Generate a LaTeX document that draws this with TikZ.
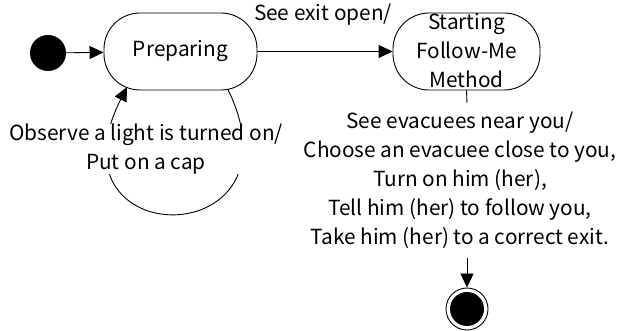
\documentclass[tikz,border=0pt]{standalone}
\usepackage{fontspec}
\setmainfont{Noto Sans CJK JP}
\usetikzlibrary{arrows.meta}
\begin{document}
\begin{tikzpicture}[x=1pt,y=-1pt,
  every node/.style={font=\fontsize{20.8}{29}\selectfont, inner sep=0pt},
  statebox/.style={draw, line width=0.9pt, rounded corners=36pt, minimum width=153pt, minimum height=77pt},
  conn/.style={line width=0.9pt},
  arr/.style={conn, -{Triangle[length=14pt,width=13pt]}},
  lbl/.style={align=center, fill=white}]
\useasboundingbox (0,0) rectangle (619,331);
\node[circle, fill=black, minimum size=36pt] (init) at (48,53) {};
\node[statebox] (prep) at (180.5,51.5) {Preparing};
\node[statebox, minimum width=147pt] (start) at (466.5,51.5) {};
\node[align=center] (starttxt) at (466.5,51) {Starting\\Follow-Me\\Method};
\draw[arr] (init) -- (prep);
\draw[arr] (prep) -- (start);
\node (exitlbl) at (323,15) {See exit open/};
\coordinate (loopA) at (228,89.5);
\coordinate (loopB) at (127,87);
\draw[arr] (loopA) .. controls (308,255) and (42,255) .. (loopB);
\node[lbl] (looplbl) at (146,149) {Observe a light is turned on/\\Put on a cap};
\node[circle, draw, line width=0.9pt, minimum size=42pt] (final) at (467,309) {};
\node[circle, fill=black, minimum size=34pt] at (final) {};
\coordinate (tB) at (467,103);
\draw[conn] (start.south) -- (tB);
\node[align=center] (actlbl) at (460,180) {See evacuees near you/\\Choose an evacuee close to you,\\Turn on him (her),\\Tell him (her) to follow you,\\Take him (her) to a correct exit.};
\coordinate (tC) at (467,258);
\draw[arr] (tC) -- (final);
\end{tikzpicture}
\end{document}
